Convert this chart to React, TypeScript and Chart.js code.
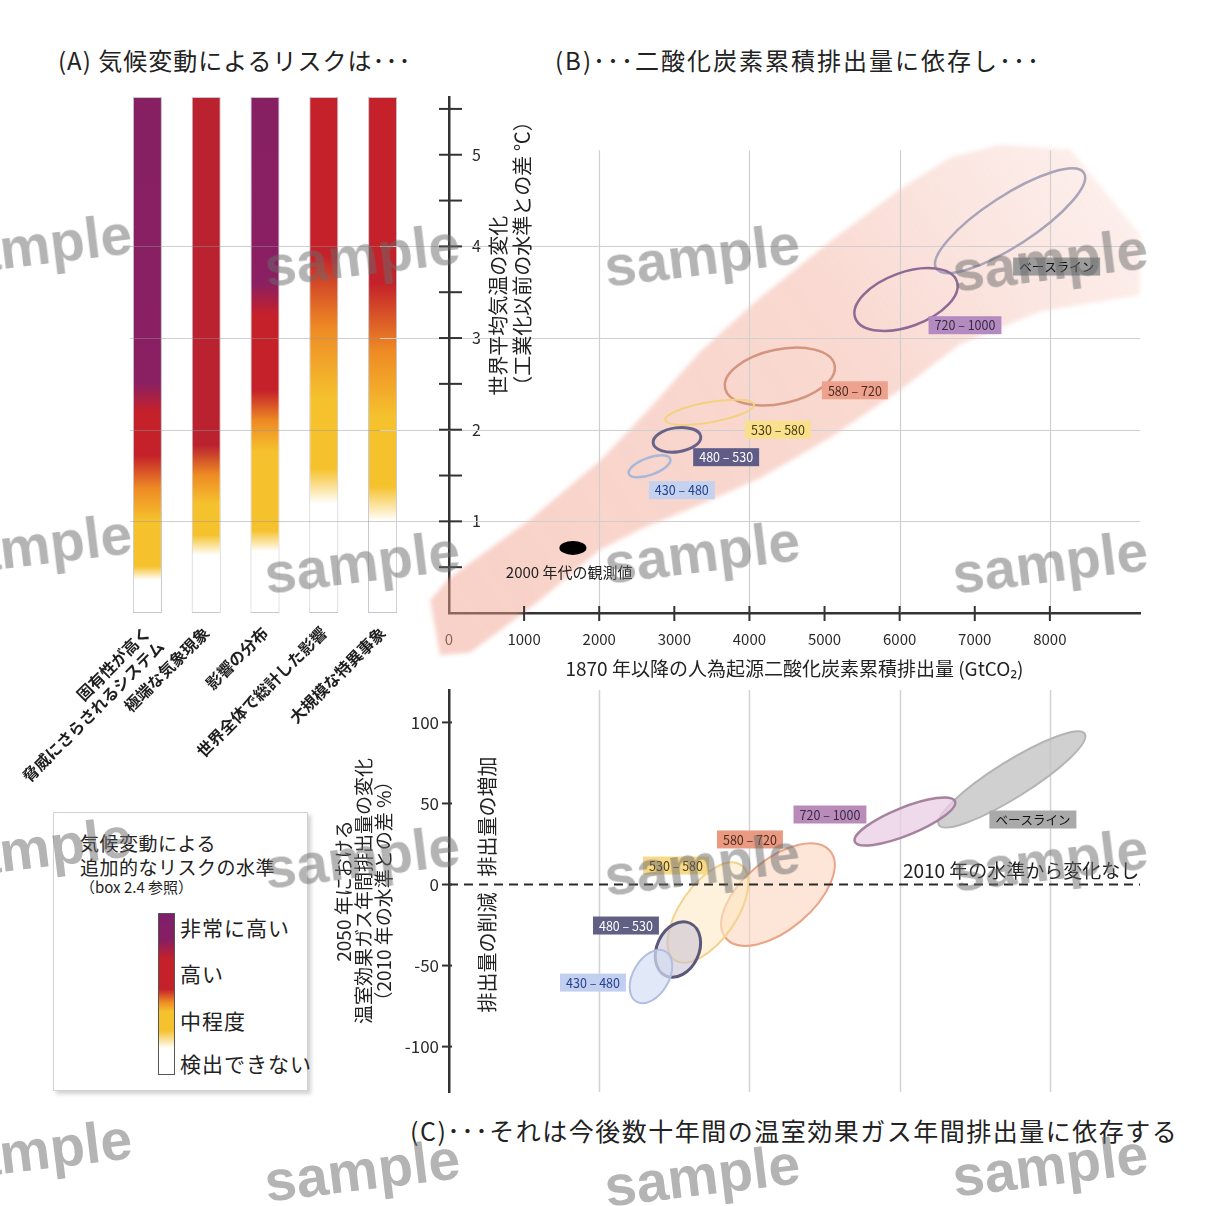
import React, { useEffect, useRef } from "react";
import { Chart, registerables } from "chart.js";

Chart.register(...registerables);

const FONT = "'Noto Sans CJK JP', 'Noto Sans', sans-serif";

// ---------------- Panel A : risk levels vs warming (°C) ----------------
const riskCategories: (string | string[])[] = [
  ["固有性が高く", "脅威にさらされるシステム"],
  "極端な気象現象",
  "影響の分布",
  "世界全体で総計した影響",
  "大規模な特異事象",
];
const riskTopTemp = [5.63, 5.63, 5.63, 5.63, 5.63];
const undetectableUpTo = [0.36, 0.63, 0.67, 1.19, 1.0];
const moderateFrom = [0.51, 0.85, 0.9, 1.57, 1.38];
const moderateTo = [1.0, 1.19, 1.76, 2.33, 2.13];
const highFrom = [1.72, 1.83, 2.43, 3.9, 3.6];
const highTo = [2.2, 5.63, 3.26, 5.63, 5.63];
const veryHighFrom: (number | null)[] = [2.51, null, 3.6, null, null];

// ---------------- Panel B : warming vs cumulative CO2 ----------------
const scenarioNames = ["ベースライン", "720 – 1000", "580 – 720", "530 – 580", "480 – 530", "430 – 480"];
const cumCenter = [7470, 6085, 4405, 3470, 3035, 2670];
const cumSpread = [1171, 719, 745, 600, 320, 293];
const warmCenter = [4.28, 3.42, 2.58, 2.19, 1.89, 1.6];
const warmSpread = [0.273, 0.295, 0.295, 0.11, 0.131, 0.093];
const warmTilt = [33, 20, 12, 10, 8, 20];
const warmLabelCum = [8090, 6870, 5404, 4380, 3690, 3100];
const warmLabelTemp = [3.78, 3.14, 2.43, 2.0, 1.7, 1.34];

const observedCum = 1650;
const observedTemp = 0.71;
const observedCumSpread = 180;
const observedTempSpread = 0.076;

const plumeUpperCum = [-250, 0, 1080, 2010, 2680, 3340, 4140, 5070, 6000, 6670, 7330, 8270, 9200];
const plumeUpperTemp = [0.14, 0.38, 1.02, 1.66, 2.24, 2.85, 3.44, 4.05, 4.62, 4.97, 5.11, 5.06, 4.13];
const plumeLowerCum = [9200, 7870, 6800, 6000, 5070, 4140, 3340, 2540, 2010, 1210, 680, 280, -120];
const plumeLowerTemp = [3.47, 3.29, 2.93, 2.43, 1.91, 1.47, 1.18, 0.91, 0.69, 0.14, -0.19, -0.43, -0.46];

const cumTickLabels = [0, 1000, 2000, 3000, 4000, 5000, 6000, 7000, 8000];
const cumTicks = [1000, 2000, 3000, 4000, 5000, 6000, 7000, 8000];
const cumGrid = [2000, 4000, 6000, 8000];
const tempTickLabels = [1, 2, 3, 4, 5];
const tempGrid = [1, 2, 3, 4];
const tempMinorTicks = [0.5, 1, 1.5, 2, 2.5, 3, 3.5, 4, 4.5, 5, 5.5];

// ---------------- Panel C : 2050 GHG emission change ----------------
const c2050Center = [7494, 6070, 4380, 3448, 3048, 2689];
const c2050Spread = [1145, 719, 905, 772, 386, 386];
const ghgCenter = [64.8, 38.9, -6.2, -17.3, -40.1, -56.8];
const ghgSpread = [11.1, 8.6, 21.6, 17.3, 13, 11.1];
const ghgTilt = [32, 22, 40, 55, 65, 60];
const ghgLabelCum = [7774, 5072, 4007, 3022, 2356, 1917];
const ghgLabelPct = [40.1, 43.2, 27.8, 11.7, -25.3, -60.5];
const ghgTicks = [-100, -50, 0, 50, 100];

// ---------------- styles ----------------
const bOutline = ["#a9a4b8", "#8d6b95", "#d4957f", "#f2d27f", "#67628a", "#aab8d8"];
const bOutlineW = [2.5, 2.5, 2.5, 2, 3, 2.5];
const boxBg = ["#9b9b9b", "#b48bc0", "#eca28c", "#f8e08d", "#5f5d87", "#c4d2ef"];
const boxFg = ["#111111", "#3a2a44", "#4a2a20", "#4a3a10", "#ffffff", "#23408a"];
const cFill = [
  "rgba(196,196,198,0.8)",
  "rgba(232,205,228,0.75)",
  "rgba(252,214,190,0.6)",
  "rgba(253,234,196,0.6)",
  "rgba(196,192,212,0.55)",
  "rgba(212,222,244,0.7)",
];
const cOutline = ["#b4b4b8", "#a7829f", "#eaa488", "#f2d38e", "#5b5879", "#b1bfdf"];
const cOutlineW = [2, 2.5, 2, 2, 3, 2];
const cBoxBg = ["#a9a9a9", "#b98bbb", "#ea9a80", "#f7d98a", "#625f85", "#c2cff0"];

function riskGradient(chart: any, i: number) {
  const { ctx, chartArea, scales } = chart;
  if (!chartArea) return "#c4212a";
  const y = scales.y;
  const top = riskTopTemp[i];
  const g = ctx.createLinearGradient(0, y.getPixelForValue(0), 0, y.getPixelForValue(top));
  const f = (t: number) => Math.min(1, Math.max(0, t / top));
  const red = i === 1 ? "#ba2230" : "#c4212a";
  const yellow = "#f5c22e";
  g.addColorStop(0, "#ffffff");
  g.addColorStop(f(undetectableUpTo[i]), "#ffffff");
  g.addColorStop(f(moderateFrom[i]), yellow);
  g.addColorStop(f(moderateTo[i]), yellow);
  g.addColorStop(f((moderateTo[i] + highFrom[i]) / 2), "#ee8a24");
  g.addColorStop(f(highFrom[i]), red);
  const vh = veryHighFrom[i];
  if (vh != null) {
    g.addColorStop(f(highTo[i]), red);
    g.addColorStop(f(vh), "#8a1f62");
    g.addColorStop(1, "#862063");
  } else {
    g.addColorStop(1, red);
  }
  return g;
}

function ellipsePath(ctx: any, xs: any, ys: any, cx: number, cy: number, a: number, b: number, tilt: number) {
  const px = xs.getPixelForValue(cx);
  const py = ys.getPixelForValue(cy);
  const rx = Math.abs(xs.getPixelForValue(cx + a) - px);
  const ry = Math.abs(ys.getPixelForValue(cy + b) - py);
  ctx.beginPath();
  ctx.ellipse(px, py, rx, ry, (-tilt * Math.PI) / 180, 0, Math.PI * 2);
}

function labelBox(ctx: any, px: number, py: number, text: string, bg: string, fg: string) {
  ctx.save();
  ctx.font = `12.5px ${FONT}`;
  const w = ctx.measureText(text).width + 12;
  const h = 18;
  ctx.fillStyle = bg;
  ctx.fillRect(px - w / 2, py - h / 2, w, h);
  ctx.fillStyle = fg;
  ctx.textAlign = "center";
  ctx.textBaseline = "middle";
  ctx.fillText(text, px, py + 0.5);
  ctx.restore();
}

const fixedTicks = (values: number[]) => (s: any) => {
  s.ticks = values.map((v) => ({ value: v }));
};

// fixes the axis box size and removes the automatic label overhang padding
const fixAxis = (size: number, horizontal: boolean) => (s: any) => {
  if (horizontal) s.height = size;
  else s.width = size;
  s.paddingTop = 0;
  s.paddingBottom = 0;
  s.paddingLeft = 0;
  s.paddingRight = 0;
};

const panelAGrid = {
  id: "panelAGrid",
  afterDatasetsDraw(chart: any) {
    const { ctx, chartArea, scales } = chart;
    ctx.save();
    ctx.strokeStyle = "rgba(150,150,150,0.45)";
    ctx.lineWidth = 1;
    tempGrid.forEach((v) => {
      const py = Math.round(scales.y.getPixelForValue(v)) + 0.5;
      ctx.beginPath();
      ctx.moveTo(chartArea.left + 12, py);
      ctx.lineTo(chart.width, py);
      ctx.stroke();
    });
    ctx.restore();
  },
};

const panelBPlugin = {
  id: "panelB",
  beforeDatasetsDraw(chart: any) {
    const { ctx, chartArea, scales } = chart;
    const { x, y } = scales;
    ctx.save();
    // plume
    ctx.beginPath();
    plumeUpperCum.forEach((v, i) => {
      const px = x.getPixelForValue(v);
      const py = y.getPixelForValue(plumeUpperTemp[i]);
      if (i === 0) ctx.moveTo(px, py);
      else ctx.lineTo(px, py);
    });
    plumeLowerCum.forEach((v, i) => ctx.lineTo(x.getPixelForValue(v), y.getPixelForValue(plumeLowerTemp[i])));
    ctx.closePath();
    const g = ctx.createLinearGradient(x.getPixelForValue(0), y.getPixelForValue(0), x.getPixelForValue(9000), y.getPixelForValue(5));
    g.addColorStop(0, "rgba(241,160,140,0.48)");
    g.addColorStop(0.6, "rgba(241,165,145,0.42)");
    g.addColorStop(1, "rgba(243,175,160,0.18)");
    ctx.filter = "blur(2px)";
    ctx.fillStyle = g;
    ctx.fill();
    ctx.filter = "none";
    // grid
    ctx.strokeStyle = "#cfcfcf";
    ctx.lineWidth = 1.2;
    cumGrid.forEach((v) => {
      const px = Math.round(x.getPixelForValue(v)) + 0.5;
      ctx.beginPath();
      ctx.moveTo(px, y.getPixelForValue(0));
      ctx.lineTo(px, y.getPixelForValue(5.05));
      ctx.stroke();
    });
    tempGrid.forEach((v) => {
      const py = Math.round(y.getPixelForValue(v)) + 0.5;
      ctx.beginPath();
      ctx.moveTo(0, py);
      ctx.lineTo(chartArea.right, py);
      ctx.stroke();
    });
    ctx.restore();
  },
  afterDatasetsDraw(chart: any) {
    const { ctx, scales } = chart;
    const { x, y } = scales;
    ctx.save();
    scenarioNames.forEach((_, i) => {
      ellipsePath(ctx, x, y, cumCenter[i], warmCenter[i], cumSpread[i], warmSpread[i], warmTilt[i]);
      ctx.strokeStyle = bOutline[i];
      ctx.lineWidth = bOutlineW[i];
      ctx.stroke();
    });
    ellipsePath(ctx, x, y, observedCum, observedTemp, observedCumSpread, observedTempSpread, 0);
    ctx.fillStyle = "#000";
    ctx.fill();
    scenarioNames.forEach((name, i) => {
      labelBox(ctx, x.getPixelForValue(warmLabelCum[i]), y.getPixelForValue(warmLabelTemp[i]), name, boxBg[i], boxFg[i]);
    });
    ctx.fillStyle = "#222";
    ctx.font = `15px ${FONT}`;
    ctx.textAlign = "center";
    ctx.textBaseline = "middle";
    ctx.fillText("2000 年代の観測値", x.getPixelForValue(1600), y.getPixelForValue(0.44));
    // y title inside the plot
    ctx.font = `20px ${FONT}`;
    ctx.textAlign = "left";
    const titles = ["世界平均気温の変化", "（工業化以前の水準との差 ℃）"];
    const titleCum = [652, 972];
    titles.forEach((t, i) => {
      ctx.save();
      ctx.translate(x.getPixelForValue(titleCum[i]), y.getPixelForValue(2.37));
      ctx.rotate(-Math.PI / 2);
      ctx.fillText(t, 0, 0);
      ctx.restore();
    });
    ctx.restore();
  },
  afterDraw(chart: any) {
    const { ctx, chartArea, scales } = chart;
    const { x, y } = scales;
    ctx.save();
    ctx.strokeStyle = "#333";
    ctx.lineWidth = 2;
    tempMinorTicks.forEach((v) => {
      const py = y.getPixelForValue(v);
      ctx.beginPath();
      ctx.moveTo(chartArea.left - 10, py);
      ctx.lineTo(chartArea.left + 13, py);
      ctx.stroke();
    });
    cumTicks.forEach((v) => {
      const px = x.getPixelForValue(v);
      ctx.beginPath();
      ctx.moveTo(px, chartArea.bottom - 7);
      ctx.lineTo(px, chartArea.bottom + 8);
      ctx.stroke();
    });
    ctx.restore();
  },
};

const panelCPlugin = {
  id: "panelC",
  beforeDatasetsDraw(chart: any) {
    const { ctx, chartArea, scales } = chart;
    const { x, y } = scales;
    ctx.save();
    ctx.strokeStyle = "#d2d2d2";
    ctx.lineWidth = 1.5;
    cumGrid.forEach((v) => {
      const px = Math.round(x.getPixelForValue(v)) + 0.5;
      ctx.beginPath();
      ctx.moveTo(px, chartArea.top);
      ctx.lineTo(px, chartArea.bottom);
      ctx.stroke();
    });
    scenarioNames.forEach((_, i) => {
      ellipsePath(ctx, x, y, c2050Center[i], ghgCenter[i], c2050Spread[i], ghgSpread[i], ghgTilt[i]);
      ctx.fillStyle = cFill[i];
      ctx.fill();
      ctx.strokeStyle = cOutline[i];
      ctx.lineWidth = cOutlineW[i];
      ctx.stroke();
    });
    ctx.restore();
  },
  afterDatasetsDraw(chart: any) {
    const { ctx, scales } = chart;
    const { x, y } = scales;
    scenarioNames.forEach((name, i) => {
      labelBox(ctx, x.getPixelForValue(ghgLabelCum[i]), y.getPixelForValue(ghgLabelPct[i]), name, cBoxBg[i], boxFg[i]);
    });
    ctx.save();
    ctx.fillStyle = "#222";
    ctx.textBaseline = "middle";
    ctx.font = `19px ${FONT}`;
    ctx.textAlign = "left";
    ctx.fillText("2010 年の水準から変化なし", x.getPixelForValue(6043), y.getPixelForValue(8.6));
    ctx.textAlign = "center";
    ctx.font = `20px ${FONT}`;
    [
      ["排出量の増加", 42],
      ["排出量の削減", -42],
    ].forEach(([t, v]) => {
      ctx.save();
      ctx.translate(x.getPixelForValue(506), y.getPixelForValue(v as number));
      ctx.rotate(-Math.PI / 2);
      ctx.fillText(t as string, 0, 0);
      ctx.restore();
    });
    ctx.restore();
  },
  afterDraw(chart: any) {
    const { ctx, chartArea, scales } = chart;
    ctx.save();
    ctx.strokeStyle = "#333";
    ctx.lineWidth = 2;
    ghgTicks.forEach((v) => {
      const py = scales.y.getPixelForValue(v);
      ctx.beginPath();
      ctx.moveTo(chartArea.left - 7, py);
      ctx.lineTo(chartArea.left + 3, py);
      ctx.stroke();
    });
    ctx.restore();
  },
};

const watermarkPos = [
  [34, 245], [362, 255], [702, 255], [1050, 260],
  [34, 545], [362, 562], [702, 552], [1050, 562],
  [34, 848], [362, 857], [702, 864], [1050, 860],
  [34, 1150], [362, 1170], [702, 1175], [1050, 1165],
];

const levelLabels = ["非常に高い", "高い", "中程度", "検出できない"];
const levelLabelY = [927, 973, 1020, 1063];

export default function App() {
  const refA = useRef<HTMLCanvasElement>(null);
  const refB = useRef<HTMLCanvasElement>(null);
  const refC = useRef<HTMLCanvasElement>(null);

  useEffect(() => {
    const tickColor = "#2a2a2a";
    const chartA = new Chart(refA.current as HTMLCanvasElement, {
      type: "bar",
      data: {
        labels: riskCategories as any,
        datasets: [
          {
            data: riskTopTemp.map((v) => [0, v]) as any,
            backgroundColor: (c: any) => riskGradient(c.chart, c.dataIndex),
            borderColor: "#c6c6d0",
            borderWidth: 1,
            borderSkipped: false,
            categoryPercentage: 1,
            barPercentage: 0.494,
          },
        ],
      },
      options: {
        responsive: false,
        animation: false,
        layout: { autoPadding: false, padding: { left: 118, right: 37, top: 17, bottom: 0 } },
        plugins: { legend: { display: false }, tooltip: { enabled: false } },
        scales: {
          x: {
            grid: { display: false },
            border: { display: false },
            ticks: {
              autoSkip: false,
              minRotation: 45,
              maxRotation: 45,
              padding: 2,
              color: "#1e1e1e",
              font: { family: FONT, size: 16, weight: "bold" },
            },
            afterFit: fixAxis(187, true),
          },
          y: {
            min: 0,
            max: 5.63,
            ticks: { display: false },
            grid: { display: false },
            border: { display: false },
            afterFit: fixAxis(0, false),
          },
        },
      } as any,
      plugins: [panelAGrid],
    });

    const chartB = new Chart(refB.current as HTMLCanvasElement, {
      type: "scatter",
      data: {
        datasets: [
          {
            data: cumCenter.map((v, i) => ({ x: v, y: warmCenter[i] })),
            pointRadius: 0,
            showLine: false,
          },
        ],
      },
      options: {
        responsive: false,
        animation: false,
        layout: { autoPadding: false, padding: { left: 0, right: 40, top: 17, bottom: 0 } },
        plugins: { legend: { display: false }, tooltip: { enabled: false } },
        scales: {
          x: {
            type: "linear",
            min: 0,
            max: 9200,
            z: 1,
            afterBuildTicks: fixedTicks(cumTickLabels),
            ticks: {
              autoSkip: false,
              maxRotation: 0,
              padding: 17,
              color: tickColor,
              font: { family: FONT, size: 15 },
              callback: (v: any) => String(v),
            },
            grid: { display: false, drawTicks: false },
            border: { display: true, color: "#333", width: 2.5 },
            title: {
              display: true,
              text: "1870 年以降の人為起源二酸化炭素累積排出量 (GtCO₂)",
              color: "#222",
              font: { family: FONT, size: 19 },
              padding: { top: 0, bottom: 3 },
            },
            afterFit: fixAxis(70, true),
          },
          y: {
            min: 0,
            max: 5.63,
            z: 1,
            afterBuildTicks: fixedTicks(tempTickLabels),
            ticks: {
              autoSkip: false,
              mirror: true,
              padding: 23,
              color: tickColor,
              font: { family: FONT, size: 16 },
              callback: (v: any) => String(v),
            },
            grid: { display: false, drawTicks: false },
            border: { display: true, color: "#333", width: 2.5 },
            afterFit: fixAxis(69, false),
          },
        },
      } as any,
      plugins: [panelBPlugin],
    });

    const chartC = new Chart(refC.current as HTMLCanvasElement, {
      type: "scatter",
      data: {
        datasets: [
          {
            type: "line",
            data: [
              { x: 0, y: 0 },
              { x: 9200, y: 0 },
            ],
            borderColor: "#2a2a2a",
            borderWidth: 2.2,
            borderDash: [9, 6],
            pointRadius: 0,
            fill: false,
          } as any,
        ],
      },
      options: {
        responsive: false,
        animation: false,
        layout: { autoPadding: false, padding: { left: 0, right: 40, top: 10, bottom: 8 } },
        plugins: { legend: { display: false }, tooltip: { enabled: false } },
        scales: {
          x: { type: "linear", min: 0, max: 9200, display: false },
          y: {
            min: -128,
            max: 120,
            z: 1,
            afterBuildTicks: fixedTicks(ghgTicks),
            ticks: {
              autoSkip: false,
              padding: 10,
              color: tickColor,
              font: { family: FONT, size: 17 },
              callback: (v: any) => String(v),
            },
            grid: { display: false, drawTicks: false },
            border: { display: true, color: "#333", width: 2.5 },
            title: {
              display: true,
              text: ["2050 年における", "温室効果ガス年間排出量の変化", "（2010 年の水準との差 %）"],
              color: "#222",
              font: { family: FONT, size: 19, lineHeight: 1.05 },
              padding: { top: 4, bottom: 0 },
            },
            afterFit: fixAxis(119, false),
          },
        },
      } as any,
      plugins: [panelCPlugin],
    });

    return () => {
      chartA.destroy();
      chartB.destroy();
      chartC.destroy();
    };
  }, []);

  const abs = (left: number, top: number, extra: any = {}) => ({ position: "absolute", left, top, whiteSpace: "nowrap", ...extra } as any);

  return (
    <div
      style={{
        position: "absolute",
        left: 0,
        top: 0,
        width: 1215,
        height: 1206,
        overflow: "hidden",
        background: "#fff",
        fontFamily: FONT,
        color: "#222",
      }}
    >
      <div style={abs(58, 46, { fontSize: 24, lineHeight: "28px", letterSpacing: 1 })}>(A) 気候変動によるリスクは･･･</div>
      <div style={abs(555, 46, { fontSize: 24, lineHeight: "28px", letterSpacing: 2 })}>(B)･･･二酸化炭素累積排出量に依存し･･･</div>
      <div style={abs(410, 1115, { fontSize: 25, lineHeight: "30px", letterSpacing: 1.5 })}>
        (C)･･･それは今後数十年間の温室効果ガス年間排出量に依存する
      </div>

      <canvas ref={refA} width={449} height={720} style={{ position: "absolute", left: 0, top: 80 }} />
      <canvas ref={refB} width={800} height={603} style={{ position: "absolute", left: 380, top: 80 }} />
      <canvas ref={refC} width={850} height={420} style={{ position: "absolute", left: 330, top: 680 }} />

      <div
        style={abs(53, 812, {
          width: 253,
          height: 277,
          border: "1px solid #d2d2d2",
          boxShadow: "3px 3px 4px rgba(0,0,0,0.18)",
          background: "#fff",
        })}
      />
      <div style={abs(80, 831, { fontSize: 19, lineHeight: "24px", letterSpacing: 0.5 })}>
        気候変動による
        <br />
        追加的なリスクの水準
      </div>
      <div style={abs(80, 878, { fontSize: 15, lineHeight: "18px" })}>（box 2.4 参照）</div>
      <div
        style={abs(158, 913, {
          width: 15,
          height: 160,
          border: "1.5px solid #555",
          background:
            "linear-gradient(to bottom, #7e1f6c 0%, #861f62 16%, #c4212a 28%, #c4212a 47%, #ee8a24 55%, #f5c22e 61%, #f5c22e 73%, #ffffff 84%, #ffffff 100%)",
        })}
      />
      {levelLabels.map((t, i) => (
        <div key={t} style={abs(180, levelLabelY[i] - 13, { fontSize: 21, lineHeight: "26px", letterSpacing: 1 })}>
          {t}
        </div>
      ))}

      {watermarkPos.map(([cx, cy], i) => (
        <div
          key={i}
          style={abs(cx - 100, cy - 35, {
            width: 200,
            height: 70,
            textAlign: "center",
            fontFamily: "'Liberation Sans', Arial, sans-serif",
            fontWeight: "bold",
            fontSize: 57,
            lineHeight: "70px",
            color: "rgba(105,105,105,0.5)",
            transform: "rotate(-7deg)",
            pointerEvents: "none",
          })}
        >
          sample
        </div>
      ))}
    </div>
  );
}
